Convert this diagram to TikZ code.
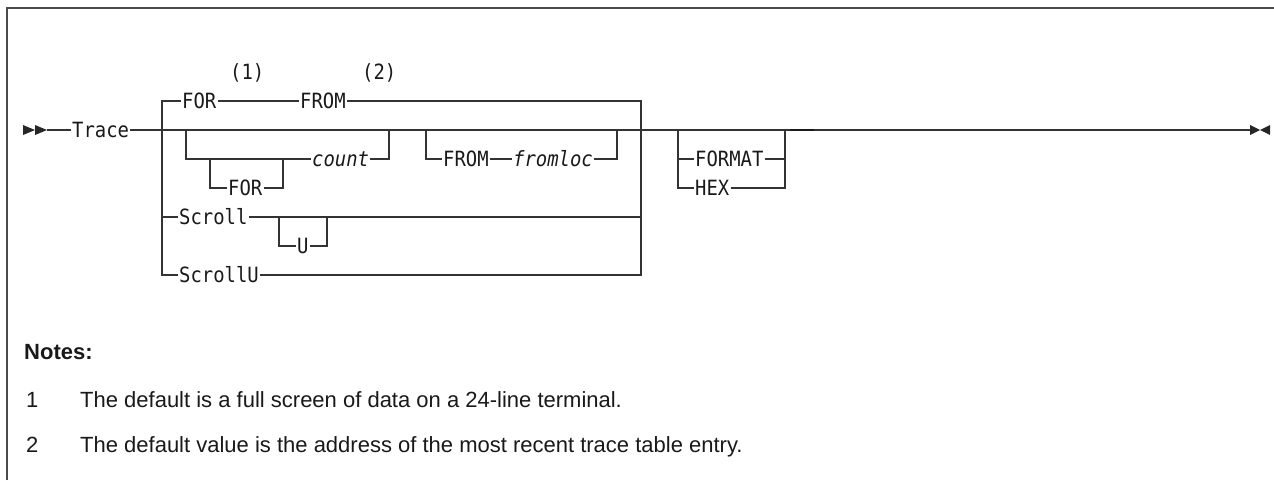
\documentclass[tikz,border=0pt]{standalone}
\usepackage{fontspec}
\setmainfont{Liberation Sans}
\newfontfamily\rr[FakeStretch=0.9]{DejaVu Sans Mono}
\newfontfamily\nt{Liberation Sans}
\begin{document}
\begin{tikzpicture}[x=1pt,y=-1pt,
  rail/.style={line width=1.2pt, draw=black!80},
  kw/.style={font=\rr\fontsize{21}{24}\selectfont, text=black!90, inner xsep=1pt, inner ysep=0pt,
    text height=15.3pt, text depth=0pt, anchor=west},
  var/.style={kw, font=\rr\itshape\fontsize{21}{24}\selectfont},
  noteref/.style={kw},
  notetext/.style={font=\nt\fontsize{22}{26}\selectfont, text=black!90, inner sep=0pt, anchor=base west},
  tip/.style={fill=black!85},
  frame/.style={line width=1.5pt, draw=black!70}]
\useasboundingbox (0,0) rectangle (1274,480);
\draw[frame] (7,480) -- (7,8) -- (1274,8);

% start
\fill[tip] (23,125) -- (35,130) -- (23,135) -- cycle;
\fill[tip] (35,125) -- (47,130) -- (35,135) -- cycle;
\coordinate (st) at (47,130);
\node[kw] (trace) at (71,130) {Trace};
\draw[rail] (st) -- (trace);

% big choice
\coordinate (L1) at (162,130);
\coordinate (R1) at (641,130);
\coordinate (a1) at (186,130);
\coordinate (a2) at (389,130);
\coordinate (b1) at (426,130);
\coordinate (b2) at (617,130);
\draw[rail] (trace) -- (L1) -- (a1) -- (a2) -- (b1) -- (b2) -- (R1);

% default row
\node[kw] (for1) at (181,101) {FOR};
\node[kw] (from1) at (299,101) {FROM};
\node[noteref] (n1) at (229,72) {(1)};
\node[noteref] (n2) at (361,72) {(2)};
\draw[rail] (L1) |- (for1.west);
\draw[rail] (for1) -- (from1);
\draw[rail] (from1) -| (R1);

% [ [FOR] count ]
\node[var] (count) at (311,159) {count};
\coordinate (c1) at (210,159);
\coordinate (c2) at (283,159);
\node[kw] (for2) at (227,188) {FOR};
\draw[rail] (a1) |- (count.west);
\draw[rail] (c1) |- (for2.west);
\draw[rail] (for2) -| (c2);
\draw[rail] (count) -| (a2);

% [ FROM fromloc ]
\node[kw] (from2) at (442,159) {FROM};
\node[var] (fromloc) at (512,159) {fromloc};
\draw[rail] (b1) |- (from2.west);
\draw[rail] (from2) -- (fromloc);
\draw[rail] (fromloc) -| (b2);

% Scroll [U]
\node[kw] (scroll) at (178,217) {Scroll};
\coordinate (u1) at (279,217);
\coordinate (u2) at (327,217);
\node[kw] (u) at (296,246) {U};
\draw[rail] (L1) |- (scroll.west);
\draw[rail] (scroll) -| (R1);
\draw[rail] (u1) |- (u.west);
\draw[rail] (u) -| (u2);

% ScrollU
\node[kw] (scrollu) at (178,275) {ScrollU};
\draw[rail] (L1) |- (scrollu.west);
\draw[rail] (scrollu) -| (R1);

% FORMAT / HEX
\coordinate (f1) at (678,130);
\coordinate (f2) at (785,130);
\coordinate (e) at (1250,130);
\node[kw] (format) at (694,159) {FORMAT};
\node[kw] (hex) at (694,188) {HEX};
\draw[rail] (R1) -- (f1) -- (f2) -- (e);
\draw[rail] (f1) |- (format.west);
\draw[rail] (format) -| (f2);
\draw[rail] (f1) |- (hex.west);
\draw[rail] (hex) -| (f2);
\draw[line width=2.4pt, draw=black!90] (790,130) -- (814,130);

% end
\fill[tip] (1250,125) -- (1260,130) -- (1250,135) -- cycle;
\fill[tip] (1270,125) -- (1260,130) -- (1270,135) -- cycle;

% notes
\node[notetext] (notes) at (24,359) {\bfseries Notes:};
\node[notetext] (k1) at (26,407) {1};
\node[notetext] (t1) at (80,407) {The default is a full screen of data on a 24-line terminal.};
\node[notetext] (k2) at (26,452) {2};
\node[notetext] (t2) at (80,452) {The default value is the address of the most recent trace table entry.};
\end{tikzpicture}
\end{document}
